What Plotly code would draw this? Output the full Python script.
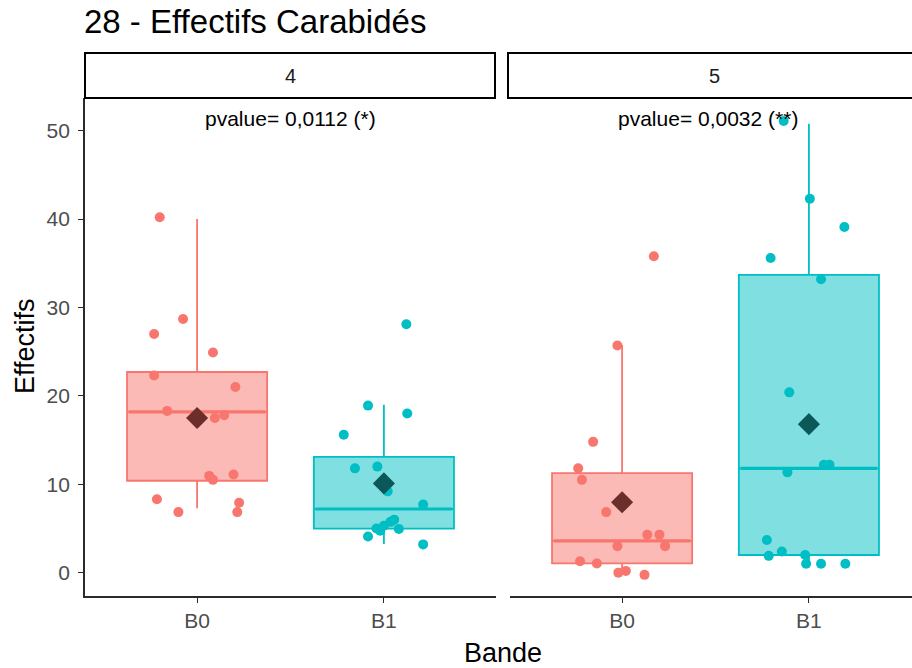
import plotly.graph_objects as go

# ---------------- data ----------------
panels = ["4", "5"]
groups = ["B0", "B1"]
pvalue_labels = ["pvalue= 0,0112 (*)", "pvalue= 0,0032 (**)"]
y_ticks = [0, 10, 20, 30, 40, 50]

# point values (Effectifs) and horizontal jitter
p4_B0_vals = [40.2, 28.7, 27.0, 24.9, 22.3, 21.0, 18.3, 17.5, 17.8, 10.95, 10.5, 11.1, 8.3, 7.9, 6.85, 6.85]
p4_B0_jit = [-0.20, -0.075, -0.23, 0.085, -0.23, 0.205, -0.16, 0.095, 0.145, 0.065, 0.085, 0.195, -0.215, 0.225, -0.10, 0.215]

p4_B1_vals = [28.1, 18.9, 18.0, 15.6, 11.8, 12.0, 9.2, 7.7, 6.0, 5.75, 5.3, 5.0, 4.75, 4.95, 4.1, 3.2]
p4_B1_jit = [0.12, -0.085, 0.125, -0.215, -0.155, -0.035, 0.02, 0.21, 0.055, 0.035, 0.0, -0.04, -0.02, 0.08, -0.085, 0.21]

p5_B0_vals = [35.8, 25.7, 14.8, 11.8, 10.5, 6.85, 4.3, 4.3, 3.0, 3.0, 1.3, 1.05, 0.0, 0.2, -0.25]
p5_B0_jit = [0.17, -0.025, -0.155, -0.235, -0.215, -0.085, 0.135, 0.20, -0.025, 0.23, -0.225, -0.135, -0.02, 0.02, 0.12]

p5_B1_vals = [51.1, 42.3, 39.1, 35.6, 33.2, 20.4, 12.2, 12.2, 11.35, 3.7, 1.9, 2.4, 2.0, 1.0, 1.0, 1.0]
p5_B1_jit = [-0.135, 0.005, 0.19, -0.205, 0.065, -0.105, 0.08, 0.11, -0.115, -0.225, -0.215, -0.145, -0.02, -0.015, 0.065, 0.195]

# box statistics per panel [B0, B1]
p4_q1 = [10.4, 4.98]
p4_median = [18.2, 7.2]
p4_q3 = [22.7, 13.1]
p4_lower = [7.3, 3.25]
p4_upper = [40.0, 19.0]
p4_mean = [17.5, 10.1]

p5_q1 = [1.06, 2.0]
p5_median = [3.6, 11.8]
p5_q3 = [11.25, 33.7]
p5_lower = [0.0, 1.0]
p5_upper = [25.75, 50.8]
p5_mean = [7.96, 16.8]

# ---------------- style ----------------
FONT = "Liberation Sans"
colors = ["#F8766D", "#00BFC4"]
fills = ["rgba(248,118,109,0.5)", "rgba(0,191,196,0.5)"]
mean_colors = ["#6B2E2B", "#0C5858"]
AXIS_COL = "#2b2b2b"
W, H = 912, 668
BOX_W = 0.75

def px_x(p):
    return p / W

def px_y(p):
    return (H - p) / H

panel_data = [
    dict(vals=[p4_B0_vals, p4_B1_vals], jit=[p4_B0_jit, p4_B1_jit],
         q1=p4_q1, med=p4_median, q3=p4_q3, lo=p4_lower, hi=p4_upper, mean=p4_mean),
    dict(vals=[p5_B0_vals, p5_B1_vals], jit=[p5_B0_jit, p5_B1_jit],
         q1=p5_q1, med=p5_median, q3=p5_q3, lo=p5_lower, hi=p5_upper, mean=p5_mean),
]
axes = [("x", "y"), ("x2", "y2")]

fig = go.Figure()

for pi, pdat in enumerate(panel_data):
    xa, ya = axes[pi]
    for gi in range(2):
        pos = gi + 1
        fig.add_trace(go.Box(
            x=[pos], q1=[pdat["q1"][gi]], median=[pdat["med"][gi]], q3=[pdat["q3"][gi]],
            lowerfence=[pdat["lo"][gi]], upperfence=[pdat["hi"][gi]],
            width=BOX_W, whiskerwidth=0, boxpoints=False,
            fillcolor=fills[gi], line=dict(color=colors[gi], width=1.8),
            xaxis=xa, yaxis=ya, hoverinfo="skip", showlegend=False,
        ))
        # thicker median bar (as in ggplot)
        fig.add_trace(go.Scatter(
            x=[pos - BOX_W / 2 + 0.01, pos + BOX_W / 2 - 0.01],
            y=[pdat["med"][gi], pdat["med"][gi]], mode="lines",
            line=dict(color=colors[gi], width=3.2),
            xaxis=xa, yaxis=ya, showlegend=False, hoverinfo="skip",
        ))
    for gi in range(2):
        pos = gi + 1
        xs = [pos + j for j in pdat["jit"][gi]]
        fig.add_trace(go.Scatter(
            x=xs, y=pdat["vals"][gi], mode="markers",
            marker=dict(color=colors[gi], size=10, line=dict(width=0)),
            xaxis=xa, yaxis=ya, showlegend=False, hoverinfo="skip",
        ))
    for gi in range(2):
        fig.add_trace(go.Scatter(
            x=[gi + 1], y=[pdat["mean"][gi]], mode="markers",
            marker=dict(color=mean_colors[gi], size=17, symbol="diamond", line=dict(width=0)),
            xaxis=xa, yaxis=ya, showlegend=False, hoverinfo="skip",
        ))

# geometry (pixels)
P1_L, P1_R = 85, 496
P2_L = 510
PANEL_TOP, PANEL_BOT = 98, 596
unit = (P1_R - P1_L) / 2.2
y_lo, y_hi = -2.64, 53.7

common_x = dict(
    tickvals=[1, 2], ticktext=groups, showgrid=False, zeroline=False,
    showline=True, linecolor=AXIS_COL, linewidth=1.8,
    ticks="outside", ticklen=5, tickwidth=1.2, tickcolor=AXIS_COL,
    tickfont=dict(family=FONT, size=21, color="#4D4D4D"),
)
fig.update_layout(
    xaxis=dict(domain=[px_x(P1_L), px_x(P1_R)], range=[0.4, 2.6], anchor="y", **common_x),
    xaxis2=dict(domain=[px_x(P2_L), 1.0], range=[0.4, 0.4 + (W - P2_L) / unit], anchor="y2", **common_x),
    yaxis=dict(domain=[px_y(PANEL_BOT), px_y(PANEL_TOP)], range=[y_lo, y_hi], anchor="x",
               tickvals=y_ticks, showgrid=False, zeroline=False,
               showline=True, linecolor=AXIS_COL, linewidth=1.8,
               ticks="outside", ticklen=5, tickwidth=1.2, tickcolor=AXIS_COL,
               ticklabelstandoff=4,
               tickfont=dict(family=FONT, size=21, color="#4D4D4D")),
    yaxis2=dict(domain=[px_y(PANEL_BOT), px_y(PANEL_TOP)], range=[y_lo, y_hi], anchor="x2",
                matches="y", showline=False, showticklabels=False, ticks="",
                showgrid=False, zeroline=False),
    width=W, height=H, margin=dict(l=0, r=0, t=0, b=0),
    paper_bgcolor="white", plot_bgcolor="white", showlegend=False,
)

# facet strips
strip_boxes = [(85, 495), (508, 930)]
shapes = []
annotations = []
for (l, r), lab in zip(strip_boxes, panels):
    shapes.append(dict(type="rect", xref="paper", yref="paper",
                       x0=px_x(l), x1=px_x(r), y0=px_y(98), y1=px_y(53),
                       line=dict(color="black", width=2), fillcolor="white", layer="above"))
    cx = (l + min(r, 920)) / 2
    annotations.append(dict(text=lab, xref="paper", yref="paper", x=px_x(cx), y=px_y(76),
                            xanchor="center", yanchor="middle", showarrow=False,
                            font=dict(family=FONT, size=20, color="#1A1A1A")))

# p-value labels
for (xa, ya), lab, xc in zip(axes, pvalue_labels, [1.5, 1.46]):
    annotations.append(dict(text=lab, xref=xa, yref=ya, x=xc, y=51.4,
                            xanchor="center", yanchor="middle", showarrow=False,
                            font=dict(family=FONT, size=21, color="black")))

# title and axis titles
annotations.append(dict(text="28 - Effectifs Carabidés", xref="paper", yref="paper",
                        x=px_x(82), y=px_y(21), xanchor="left", yanchor="middle", showarrow=False,
                        font=dict(family=FONT, size=33, color="black")))
annotations.append(dict(text="Effectifs", xref="paper", yref="paper",
                        x=px_x(25), y=px_y(346), xanchor="center", yanchor="middle", showarrow=False,
                        textangle=-90, font=dict(family=FONT, size=27, color="black")))
annotations.append(dict(text="Bande", xref="paper", yref="paper",
                        x=px_x(503), y=px_y(653), xanchor="center", yanchor="middle", showarrow=False,
                        font=dict(family=FONT, size=27, color="black")))

fig.update_layout(shapes=shapes, annotations=annotations)
fig.write_html("out.html", config={"displayModeBar": False},
               post_script="document.body.style.margin='0';document.body.style.overflow='hidden';")
